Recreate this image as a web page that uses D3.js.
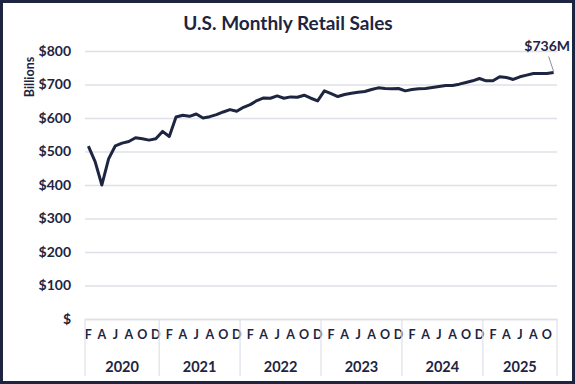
<!DOCTYPE html>
<html>
<head>
<meta charset="utf-8">
<script src="https://cdn.jsdelivr.net/npm/d3@7"></script>
<style>
    body { margin: 0; background: #fff; }
    #chart { width: 575px; height: 384px; }
    text { font-family: Lato, "Open Sans", sans-serif; font-weight: 700; fill: #1d2541; }
</style>
</head>
<body>
<div id="chart"></div>
<script>
// Monthly retail sales, Feb 2020 - Nov 2025 (billions)
const firstMonth = "2020-02";
const lastMonth = "2025-11";

const sales2020 = [516, 470, 400, 478, 517, 525, 530, 541, 538, 534, 538];
const sales2021 = [560, 545, 603, 608, 605, 612, 600, 604, 610, 618, 625, 620];
const sales2022 = [632, 640, 652, 660, 659, 666, 659, 663, 662, 668, 659, 651];
const sales2023 = [681, 673, 664, 670, 674, 677, 679, 685, 690, 688, 687, 688];
const sales2024 = [681, 685, 687, 688, 691, 694, 697, 697, 701, 706, 711, 718];
const sales2025 = [711, 711, 723, 721, 715, 723, 728, 733, 733, 733, 736];

const monthLetters = ["J", "F", "M", "A", "M", "J", "J", "A", "S", "O", "N", "D"];
const labeledMonths = [1, 3, 5, 7, 9, 11]; // Feb, Apr, Jun, Aug, Oct, Dec
const yTicks = [0, 100, 200, 300, 400, 500, 600, 700, 800];

const title = "U.S. Monthly Retail Sales";
const yLabel = "Billions";
const endLabel = "$736M";

const navy = "#1d2541";
const gridColour = "#dfe0e8";

// Build the data table
const parseMonth = d3.timeParse("%Y-%m");
const fmtKey = d3.timeFormat("%Y-%m");
const monthDates = d3.timeMonth.range(parseMonth(firstMonth), d3.timeMonth.offset(parseMonth(lastMonth), 1));
const values = [].concat(sales2020, sales2021, sales2022, sales2023, sales2024, sales2025);
const data = monthDates.map((d, i) => ({date: d, key: fmtKey(d), value: values[i]}));

const width = 575, height = 384;
const margin = {top: 51, right: 18, bottom: 65, left: 85};

const svg = d3.select("#chart").append("svg")
    .attr("width", width)
    .attr("height", height);

// Frame
svg.append("rect")
    .attr("x", 1.5).attr("y", 1.5)
    .attr("width", width - 3).attr("height", height - 3)
    .attr("fill", "#fff")
    .attr("stroke", navy)
    .attr("stroke-width", 3);

// Scales
const x = d3.scaleBand()
    .domain(data.map(d => d.key))
    .range([margin.left, width - margin.right]);

const y = d3.scaleLinear()
    .domain([0, 800])
    .range([height - margin.bottom, margin.top]);

// Y axis with gridlines
const yAxis = d3.axisLeft(y)
    .tickValues(yTicks)
    .tickSize(-(width - margin.left - margin.right))
    .tickPadding(14)
    .tickFormat(d => d === 0 ? "$" : "$" + d);

svg.append("g")
    .attr("class", "y-axis")
    .attr("transform", `translate(${margin.left}, 0)`)
    .call(yAxis)
    .call(g => g.select(".domain").remove())
    .call(g => g.selectAll("line").attr("stroke", gridColour).attr("stroke-width", 1.5))
    .call(g => g.selectAll("text").style("font-size", "14px").attr("fill", navy));

// X axis: month letters
const xAxis = d3.axisBottom(x)
    .tickValues(data.filter(d => labeledMonths.includes(d.date.getMonth())).map(d => d.key))
    .tickSize(0)
    .tickPadding(11)
    .tickFormat(k => monthLetters[parseMonth(k).getMonth()]);

svg.append("g")
    .attr("class", "x-axis")
    .attr("transform", `translate(0, ${y(0)})`)
    .call(xAxis)
    .call(g => g.select(".domain").attr("stroke", gridColour).attr("stroke-width", 1.5))
    .call(g => g.selectAll("text").style("font-size", "12.5px").attr("fill", navy));

// Year groups
const yearGroups = d3.groups(data, d => d.date.getFullYear());
const axisBottomY = height - 8;

const bounds = yearGroups.map(([yr, rows]) => x(rows[0].key));
bounds.push(x(data[data.length - 1].key) + x.bandwidth());

svg.append("g")
    .selectAll("line")
    .data(bounds)
    .join("line")
    .attr("x1", d => d).attr("x2", d => d)
    .attr("y1", y(0)).attr("y2", axisBottomY)
    .attr("stroke", gridColour)
    .attr("stroke-width", 1.2);

svg.append("g")
    .selectAll("text")
    .data(yearGroups)
    .join("text")
    .attr("x", ([yr, rows]) => (x(rows[0].key) + x(rows[rows.length - 1].key) + x.bandwidth()) / 2)
    .attr("y", 372)
    .attr("text-anchor", "middle")
    .style("font-size", "14.5px")
    .text(([yr]) => yr);

// Line
const line = d3.line()
    .x(d => x(d.key) + x.bandwidth() / 2)
    .y(d => y(d.value));

svg.append("path")
    .datum(data)
    .attr("fill", "none")
    .attr("stroke", navy)
    .attr("stroke-width", 3)
    .attr("stroke-linejoin", "round")
    .attr("d", line);

// Title
svg.append("text")
    .attr("x", 288)
    .attr("y", 30)
    .attr("text-anchor", "middle")
    .style("font-size", "19px")
    .text(title);

// Y label
svg.append("text")
    .attr("transform", "rotate(-90)")
    .attr("x", -77)
    .attr("y", 34)
    .attr("text-anchor", "middle")
    .style("font-size", "12.5px")
    .text(yLabel);

// End annotation
const last = data[data.length - 1];
const lastX = x(last.key) + x.bandwidth() / 2;

svg.append("line")
    .attr("x1", lastX - 5).attr("y1", y(last.value) - 16)
    .attr("x2", lastX).attr("y2", y(last.value) - 1)
    .attr("stroke", "#8a8fa3")
    .attr("stroke-width", 1);

svg.append("text")
    .attr("x", 570)
    .attr("y", 51)
    .attr("text-anchor", "end")
    .style("font-size", "14px")
    .text(endLabel);
</script>
</body>
</html>
